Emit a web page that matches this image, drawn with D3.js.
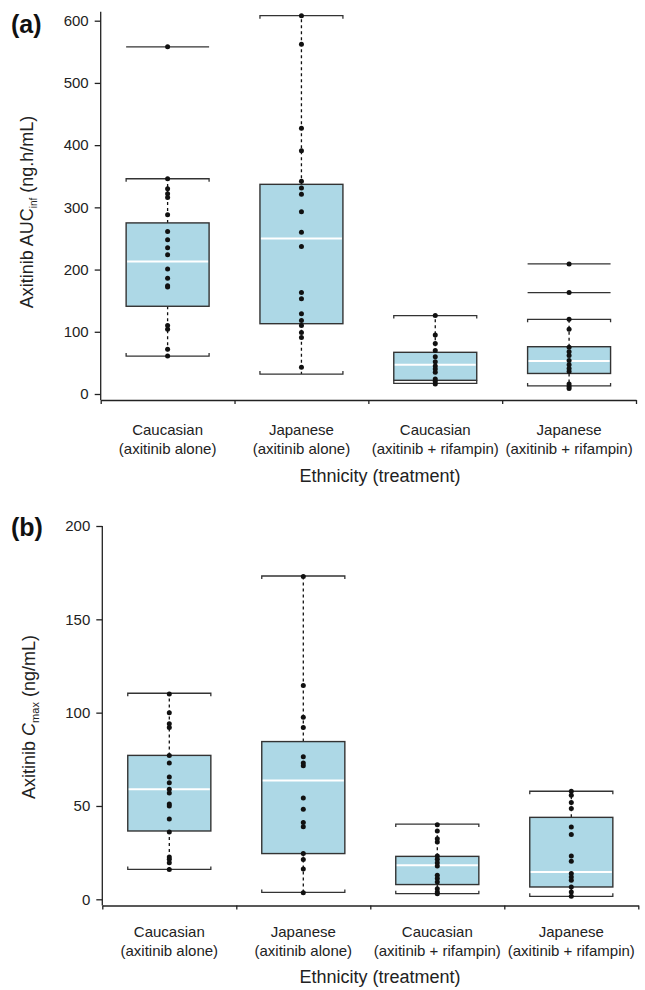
<!DOCTYPE html>
<html>
<head>
<meta charset="utf-8">
<script src="https://cdn.jsdelivr.net/npm/d3@7"></script>
<style>
	body { margin: 0; background: #fff; }
	svg { display: block; font-family: 'Liberation Sans', Arial, Helvetica, sans-serif; }
</style>
</head>
<body>
<div id="chart"></div>
<script>
'use strict';

// categories (two text lines each)
var catLine1 = ['Caucasian', 'Japanese', 'Caucasian', 'Japanese'];
var catLine2 = ['(axitinib alone)', '(axitinib alone)', '(axitinib + rifampin)', '(axitinib + rifampin)'];

// box stats: [low whisker, q1, median, q3, high whisker]
var aucStats = [
	[61, 141, 213, 275, 346],
	[32, 113, 250, 337, 608],
	[17, 22, 47, 67, 126],
	[13, 33, 53, 76, 120]
];
var aucOutliers = [[558], [], [], [163, 209]];
var aucPoints = [
	[346, 330, 322, 316, 288, 261, 248, 235, 224, 201, 186, 174, 172, 110, 104, 72, 61],
	[608, 562, 427, 391, 342, 331, 321, 293, 260, 237, 163, 153, 129, 118, 110, 99, 91, 43],
	[126, 95, 81, 70, 60, 52, 45, 40, 35, 24, 20, 16],
	[120, 104, 75, 68, 62, 54, 47, 41, 36, 16, 12, 9]
];
var aucTicks = [0, 100, 200, 300, 400, 500, 600];

var cmaxStats = [
	[16, 36.6, 58.9, 77.1, 110.4],
	[3.7, 24.5, 63.7, 84.5, 173.2],
	[3, 7.9, 18.2, 23, 40.3],
	[1.6, 6.6, 14.6, 43.9, 57.9]
];
var cmaxOutliers = [[], [], [], []];
var cmaxPoints = [
	[110, 100, 94, 92, 77, 73, 65.5, 62.5, 59, 57, 51, 50, 43, 36, 22.7, 21.4, 19.6, 16],
	[173, 114.5, 97.5, 92, 76.4, 73, 71.6, 54.3, 48.2, 41.1, 38.9, 24.5, 21.3, 16.2, 3.5],
	[40, 36.6, 32.5, 30.7, 23.2, 21.4, 19.6, 17.9, 12.9, 11.1, 9.3, 5.7, 3.9, 3],
	[57.9, 55.7, 51.8, 48.6, 38.7, 34.7, 23.2, 20.4, 13.8, 12, 10.2, 6.6, 3.9, 1.6]
];
var cmaxTicks = [0, 50, 100, 150, 200];

var INK = '#222',
	BOX_FILL = '#add8e6',
	BOX_STROKE = '#333';

var svg = d3.select('#chart').append('svg')
	.attr('width', 645)
	.attr('height', 990);

function drawPanel(cfg) {
	var g = svg.append('g');

	var x = d3.scaleBand()
		.domain(d3.range(catLine1.length))
		.range([cfg.x0, cfg.x1])
		.padding(0);
	var xEdge = d3.scaleLinear().domain([0, catLine1.length]).range([cfg.x0, cfg.x1]);
	var y = d3.scaleLinear().domain(cfg.domain).range([cfg.yBottom, cfg.yTop]);
	var bw = x.bandwidth() * 0.62;

	// y axis
	var yAxis = g.append('g')
		.attr('transform', 'translate(' + cfg.x0 + ',0)')
		.call(d3.axisLeft(y).tickValues(cfg.ticks).tickSize(6).tickPadding(6).tickSizeOuter(0));
	yAxis.select('.domain').remove();
	yAxis.selectAll('.tick line').attr('stroke', INK).attr('stroke-width', 1.3);
	yAxis.selectAll('.tick text').attr('fill', INK).style('font-size', '15px');
	g.append('line')
		.attr('x1', cfg.x0).attr('x2', cfg.x0)
		.attr('y1', cfg.axisTop).attr('y2', cfg.axisY)
		.attr('stroke', INK).attr('stroke-width', 1.3);

	// x axis (ticks at band edges)
	var xAxis = g.append('g')
		.attr('transform', 'translate(0,' + cfg.axisY + ')')
		.call(d3.axisBottom(xEdge).tickValues(d3.range(catLine1.length + 1)).tickFormat('').tickSize(4).tickSizeOuter(0));
	xAxis.select('.domain').attr('stroke', INK).attr('stroke-width', 1.3);
	xAxis.selectAll('.tick line').attr('stroke', INK).attr('stroke-width', 1.3);

	var labels = g.append('g').selectAll('text')
		.data(d3.range(catLine1.length))
		.join('text')
		.attr('x', function (i) { return x(i) + x.bandwidth() / 2; })
		.attr('y', cfg.axisY + cfg.catOffset)
		.attr('text-anchor', 'middle')
		.attr('fill', INK)
		.style('font-size', '15px');
	labels.append('tspan').text(function (i) { return catLine1[i]; });
	labels.append('tspan')
		.attr('x', function (i) { return x(i) + x.bandwidth() / 2; })
		.attr('dy', 19.5)
		.text(function (i) { return catLine2[i]; });

	g.append('text')
		.attr('x', 380)
		.attr('y', cfg.xTitleY)
		.attr('text-anchor', 'middle')
		.attr('fill', INK)
		.style('font-size', '18px')
		.text('Ethnicity (treatment)');

	// y title
	var yt = g.append('text')
		.attr('transform', 'translate(' + cfg.titleX + ',' + cfg.titleY + ') rotate(-90)')
		.attr('text-anchor', 'middle')
		.attr('fill', INK)
		.style('font-size', '18px');
	cfg.title(yt);

	g.append('text')
		.attr('x', 11)
		.attr('y', cfg.labelY)
		.attr('fill', '#111')
		.style('font-size', '25px')
		.style('font-weight', 'bold')
		.text(cfg.label);

	// boxes
	var boxes = g.append('g').selectAll('g')
		.data(cfg.stats.map(function (s, i) { return { i: i, s: s, pts: cfg.points[i], out: cfg.outliers[i] }; }))
		.join('g');

	boxes.each(function (d) {
		var bg = d3.select(this),
			cx = x(d.i) + x.bandwidth() / 2,
			s = d.s;

		// dashed whisker stems
		bg.append('line')
			.attr('x1', cx).attr('x2', cx)
			.attr('y1', y(s[3])).attr('y2', y(s[4]))
			.attr('stroke', '#111').attr('stroke-width', 1.3).attr('stroke-dasharray', '3,3');
		bg.append('line')
			.attr('x1', cx).attr('x2', cx)
			.attr('y1', y(s[1])).attr('y2', y(s[0]))
			.attr('stroke', '#111').attr('stroke-width', 1.3).attr('stroke-dasharray', '3,3');

		// whisker caps with small end ticks
		[[s[4], 1], [s[0], -1]].forEach(function (w) {
			var yy = y(w[0]);
			bg.append('path')
				.attr('d', 'M' + (cx - bw / 2) + ',' + (yy + w[1] * 3) + 'V' + yy + 'H' + (cx + bw / 2) + 'V' + (yy + w[1] * 3))
				.attr('fill', 'none')
				.attr('stroke', BOX_STROKE).attr('stroke-width', 1.3);
		});

		// outliers: plain lines
		d.out.forEach(function (v) {
			bg.append('line')
				.attr('x1', cx - bw / 2).attr('x2', cx + bw / 2)
				.attr('y1', y(v)).attr('y2', y(v))
				.attr('stroke', BOX_STROKE).attr('stroke-width', 1.3);
		});

		bg.append('rect')
			.attr('x', cx - bw / 2)
			.attr('y', y(s[3]))
			.attr('width', bw)
			.attr('height', y(s[1]) - y(s[3]))
			.attr('fill', BOX_FILL)
			.attr('stroke', BOX_STROKE)
			.attr('stroke-width', 1.4);
		bg.append('line')
			.attr('x1', cx - bw / 2 + 1).attr('x2', cx + bw / 2 - 1)
			.attr('y1', y(s[2])).attr('y2', y(s[2]))
			.attr('stroke', '#fff').attr('stroke-width', 2);

		bg.selectAll('circle')
			.data(d.pts.concat(d.out))
			.join('circle')
			.attr('cx', cx)
			.attr('cy', function (v) { return y(v); })
			.attr('r', 2.5)
			.attr('fill', '#111');
	});
}

drawPanel({
	label: '(a)', labelY: 33,
	x0: 100.7, x1: 636,
	domain: [0, 600], ticks: aucTicks,
	yBottom: 394, yTop: 20.7, axisTop: 11.7, axisY: 400,
	catOffset: 34.5, xTitleY: 482,
	stats: aucStats, points: aucPoints, outliers: aucOutliers,
	titleX: 33, titleY: 212,
	title: function (t) {
		t.append('tspan').text('Axitinib AUC');
		t.append('tspan').attr('dy', 4).style('font-size', '10px').text('inf');
		t.append('tspan').attr('dy', -4).text(' (ng.h/mL)');
	}
});

drawPanel({
	label: '(b)', labelY: 536,
	x0: 102.3, x1: 638.3,
	domain: [0, 200], ticks: cmaxTicks,
	yBottom: 899.3, yTop: 526, axisTop: 526, axisY: 905.5,
	catOffset: 31, xTitleY: 983,
	stats: cmaxStats, points: cmaxPoints, outliers: cmaxOutliers,
	titleX: 35, titleY: 717,
	title: function (t) {
		t.append('tspan').text('Axitinib ');
		t.append('tspan').style('font-style', 'italic').text('C');
		t.append('tspan').attr('dy', 4).style('font-size', '11px').text('max');
		t.append('tspan').attr('dy', -4).text(' (ng/mL)');
	}
});
</script>
</body>
</html>
